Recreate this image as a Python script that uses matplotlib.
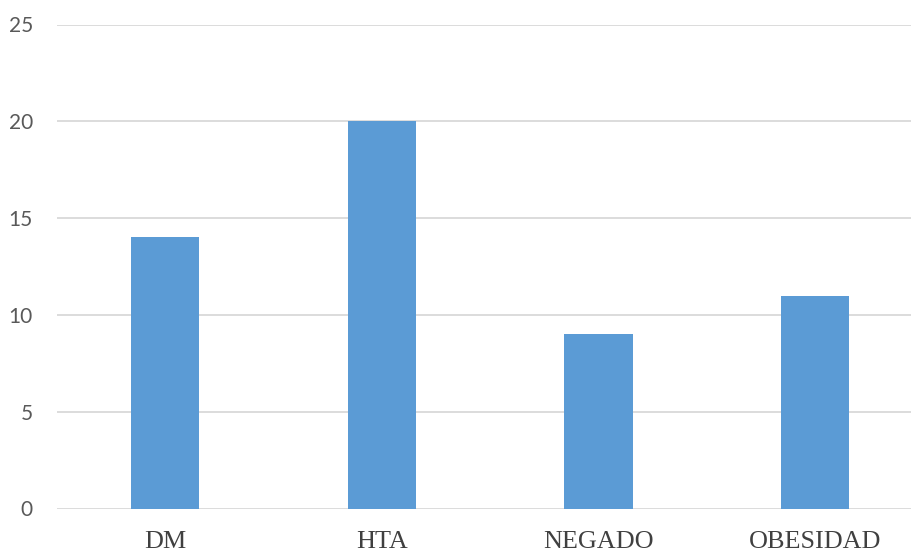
import matplotlib
matplotlib.use("Agg")
import matplotlib.pyplot as plt

categories = ["DM", "HTA", "NEGADO", "OBESIDAD"]
values = [14, 20, 9, 11]
y_ticks = [0, 5, 10, 15, 20, 25]

fig = plt.figure(figsize=(9.12, 5.52), dpi=100)
ax = fig.add_axes([56.6 / 912, 43.5 / 552, 867 / 912, 484 / 552])

x = range(len(categories))
ax.bar(x, values, width=0.314, color="#5B9BD5", zorder=3)

ax.set_xlim(-0.5, len(categories) - 0.5)
ax.set_ylim(0, 25)
ax.set_yticks(y_ticks)
ax.set_yticklabels([str(t) for t in y_ticks], family="Lato", fontsize=15, color="#595959")
ax.set_xticks(list(x))
ax.set_xticklabels(categories, family="Liberation Serif", fontsize=18.8, color="#404040")

ax.yaxis.grid(True, color="#D9D9D9", linewidth=1.3, zorder=0)
ax.tick_params(axis="both", length=0)
ax.tick_params(axis="y", pad=17)
ax.tick_params(axis="x", pad=16)
for s in ax.spines.values():
    s.set_visible(False)

fig.savefig("out.png", dpi=100)
